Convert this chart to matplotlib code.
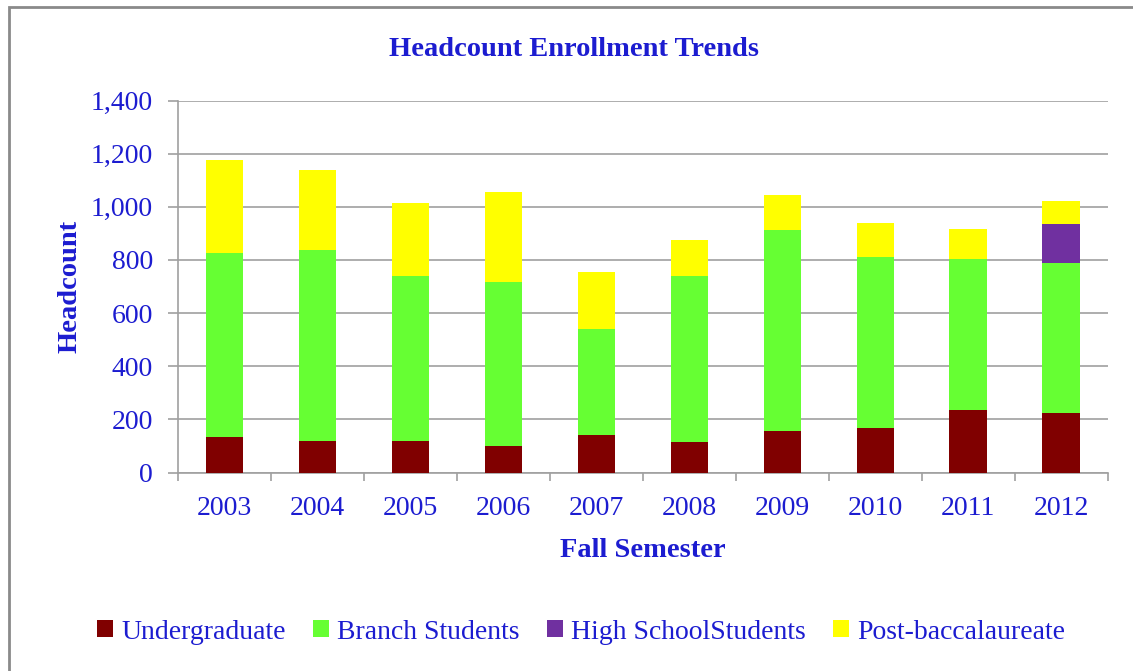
import matplotlib.pyplot as plt
from matplotlib.patches import Patch, Rectangle
from matplotlib.ticker import FuncFormatter
import numpy as np

years = ["2003", "2004", "2005", "2006", "2007", "2008", "2009", "2010", "2011", "2012"]
undergraduate = [132, 117, 120, 99, 143, 115, 158, 169, 234, 224]
branch = [693, 720, 619, 618, 396, 624, 756, 641, 571, 563]
high_school = [0, 0, 0, 0, 0, 0, 0, 0, 0, 148]
post_bacc = [353, 302, 277, 337, 215, 136, 129, 130, 112, 86]

series = [
    ("Undergraduate", undergraduate, "#800000"),
    ("Branch Students", branch, "#66ff33"),
    ("High SchoolStudents", high_school, "#7030a0"),
    ("Post-baccalaureate", post_bacc, "#ffff00"),
]

blue = "#1c1cd0"
grid = "#a0a0a0"
plt.rcParams["font.family"] = ["Liberation Serif", "DejaVu Serif"]

fig = plt.figure(figsize=(11.33, 6.71), dpi=100)
ax = fig.add_axes([0.1571, 0.2958, 0.8204, 0.5544])

x = np.arange(len(years))
bottom = np.zeros(len(years))
for name, vals, color in series:
    ax.bar(x, vals, width=0.4, bottom=bottom, color=color, label=name, zorder=3)
    bottom += np.array(vals)

ax.set_xlim(-0.5, len(years) - 0.5)
ax.set_ylim(0, 1400)
ax.set_yticks(range(0, 1401, 200))
ax.yaxis.set_major_formatter(FuncFormatter(lambda v, p: f"{int(v):,}"))
ax.grid(axis="y", color=grid, linewidth=1.2, zorder=0)

ax.set_xticks(x)
ax.set_xticklabels(years)
ax.set_xticks(np.arange(-0.5, len(years)), minor=True)
ax.tick_params(axis="x", which="major", length=0, pad=17, labelsize=20, labelcolor=blue)
ax.tick_params(axis="x", which="minor", length=6, width=1.2, color=grid)
ax.tick_params(axis="y", length=7, width=1.2, color=grid, pad=11, labelsize=20, labelcolor=blue)

for s in ["top", "right"]:
    ax.spines[s].set_visible(False)
for s in ["left", "bottom"]:
    ax.spines[s].set_color(grid)
    ax.spines[s].set_linewidth(1.2)

ax.set_xlabel("Fall Semester", fontsize=20.5, fontweight="bold", color=blue, labelpad=12)
ax.set_ylabel("Headcount", fontsize=20.5, fontweight="bold", color=blue, labelpad=6)

fig.text(0.5066, 0.926, "Headcount Enrollment Trends", ha="center", va="center",
         fontsize=20.5, fontweight="bold", color=blue)

handles = [Patch(facecolor=c, edgecolor="none") for _, _, c in series]
fig.legend(handles, [n for n, _, _ in series], loc="center", bbox_to_anchor=(0.513, 0.058),
           ncol=4, frameon=False, fontsize=20, labelcolor=blue, handlelength=0.55,
           handleheight=0.55, handletextpad=0.3, columnspacing=1.0)

# outer chart border (runs off the right and bottom edges)
fig.patches.append(Rectangle((9 / 1133, -0.05), 1.2, 1 - 7 / 671 + 0.05,
                             transform=fig.transFigure, fill=False,
                             edgecolor="#8a8a8a", linewidth=2))

fig.savefig("out.png", dpi=100)
